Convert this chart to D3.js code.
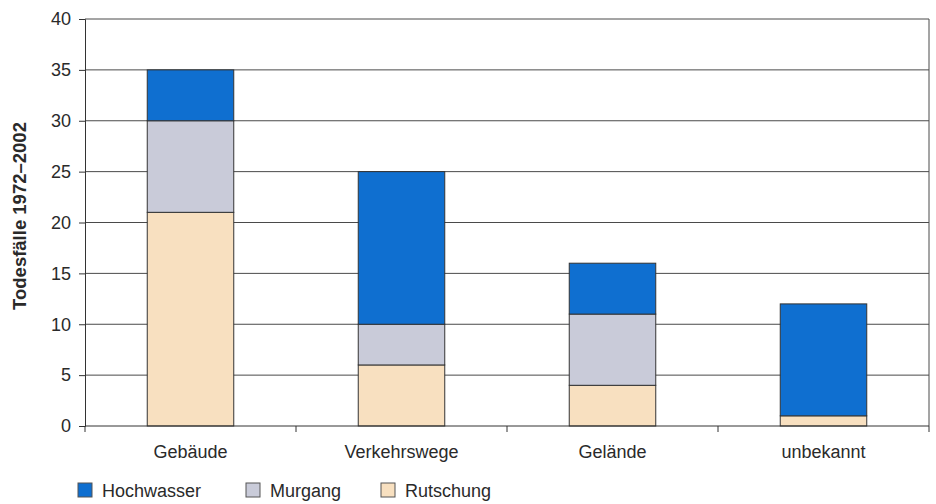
<!DOCTYPE html>
<html>
<head>
<meta charset="utf-8">
<script src="https://cdn.jsdelivr.net/npm/d3@7"></script>
<style>
  body { margin: 0; background: #fff; }
  svg { font-family: "Liberation Sans", Arial, sans-serif; }
</style>
</head>
<body>
<svg id="chart" width="936" height="504"></svg>
<script>
const categories = ["Gebäude", "Verkehrswege", "Gelände", "unbekannt"];
const seriesNames = ["Rutschung", "Murgang", "Hochwasser"];
const rutschung = [21, 6, 4, 1];
const murgang = [9, 4, 7, 0];
const hochwasser = [5, 15, 5, 11];
const yTicks = [0, 5, 10, 15, 20, 25, 30, 35, 40];
const legendOrder = ["Hochwasser", "Murgang", "Rutschung"];

const colors = {Hochwasser: "#0f6fd0", Murgang: "#c9cbd9", Rutschung: "#f8e0c0"};

const margin = {top: 19, right: 7, bottom: 78, left: 85};
const width = 936 - margin.left - margin.right;
const height = 504 - margin.top - margin.bottom;

const svg = d3.select("#chart");
const g = svg.append("g").attr("transform", `translate(${margin.left},${margin.top})`);

const rows = categories.map((c, i) => ({
    cat: c, Rutschung: rutschung[i], Murgang: murgang[i], Hochwasser: hochwasser[i]
}));
const stacked = d3.stack().keys(seriesNames)(rows);

const x = d3.scaleBand().domain(categories).range([0, width]).paddingInner(0.59).paddingOuter(0.295);
const y = d3.scaleLinear().domain([0, 40]).range([height, 0]);

// gridlines
g.selectAll(".grid")
    .data(yTicks.filter(d => d > 0))
    .enter()
    .append("line")
    .attr("x1", 0).attr("x2", width)
    .attr("y1", d => y(d)).attr("y2", d => y(d))
    .attr("stroke", "#4a4a4a").attr("stroke-width", 1);

// right border
g.append("line")
    .attr("x1", width).attr("x2", width)
    .attr("y1", 0).attr("y2", height)
    .attr("stroke", "#4a4a4a");

// bars
g.selectAll(".series")
    .data(stacked)
    .enter()
    .append("g")
    .attr("fill", d => colors[d.key])
    .selectAll("rect")
    .data(d => d.filter(s => s[1] > s[0]))
    .enter()
    .append("rect")
    .attr("x", d => x(d.data.cat))
    .attr("y", d => y(d[1]))
    .attr("width", x.bandwidth())
    .attr("height", d => y(d[0]) - y(d[1]))
    .attr("stroke", "#333")
    .attr("stroke-width", 1);

// y axis
const yAxis = g.append("g")
    .call(d3.axisLeft(y).tickValues(yTicks).tickSize(6).tickPadding(8));
yAxis.select(".domain").attr("stroke", "#333");
yAxis.selectAll(".tick line").attr("stroke", "#333");
yAxis.selectAll("text").attr("font-size", 18).attr("fill", "#2a2a2a");

// x axis with ticks between categories
const xAxis = g.append("g").attr("transform", `translate(0,${height})`);
xAxis.append("line").attr("x1", 0).attr("x2", width).attr("stroke", "#333");
const step = x.step();
xAxis.selectAll(".xt")
    .data(d3.range(0, categories.length + 1))
    .enter()
    .append("line")
    .attr("x1", i => i * step).attr("x2", i => i * step)
    .attr("y1", 0).attr("y2", 6)
    .attr("stroke", "#333");
xAxis.selectAll(".xl")
    .data(categories)
    .enter()
    .append("text")
    .attr("x", d => x(d) + x.bandwidth() / 2)
    .attr("y", 32)
    .attr("text-anchor", "middle")
    .attr("font-size", 18)
    .attr("fill", "#2a2a2a")
    .text(d => d);

// y title
svg.append("text")
    .attr("transform", "translate(26,216) rotate(-90)")
    .attr("text-anchor", "middle")
    .attr("font-size", 18.5)
    .attr("font-weight", "bold")
    .attr("fill", "#2a2a2a")
    .text("Todesfälle 1972–2002");

// legend
const legendX = [78, 246, 381];
const legend = svg.append("g").attr("transform", "translate(0,483)");
legendOrder.forEach((name, i) => {
    legend.append("rect")
        .attr("x", legendX[i]).attr("y", 0)
        .attr("width", 14).attr("height", 14)
        .attr("fill", colors[name])
        .attr("stroke", "#555");
    legend.append("text")
        .attr("x", legendX[i] + 24).attr("y", 14)
        .attr("font-size", 18)
        .attr("fill", "#2a2a2a")
        .text(name);
});
</script>
</body>
</html>
